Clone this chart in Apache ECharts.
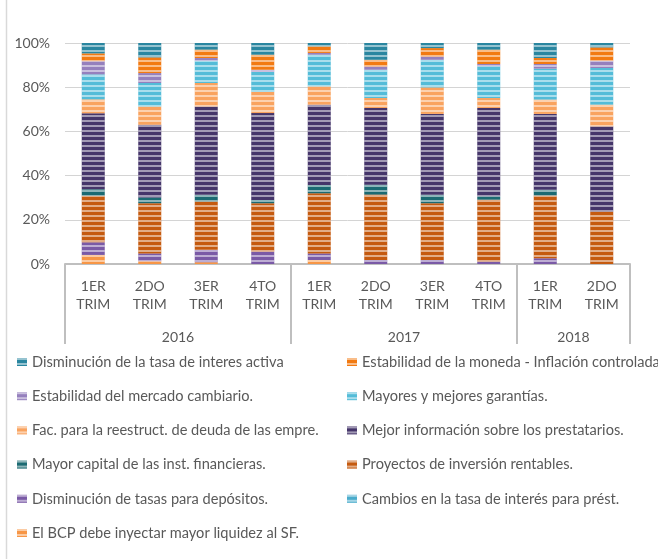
<!DOCTYPE html>
<html>
<head>
<meta charset="utf-8">
<script src="https://cdn.jsdelivr.net/npm/echarts@6/dist/echarts.min.js"></script>
<style>
html,body{margin:0;padding:0;background:#fff;}
#chart{width:658px;height:559px;}
</style>
</head>
<body>
<div id="chart"></div>
<script>
// Categories (quarters) and their year groups
const categories = ['1ER\nTRIM','2DO\nTRIM','3ER\nTRIM','4TO\nTRIM','1ER\nTRIM','2DO\nTRIM','3ER\nTRIM','4TO\nTRIM','1ER\nTRIM','2DO\nTRIM'];
const years = ['2016','2016','2016','2016','2017','2017','2017','2017','2018','2018'];
const yearLabelIndex = [1, 5, 8];
const groupStartIndex = [0, 4, 8];

// Series values (% share), legend order
const tasaActiva  = [4.7, 6.5, 3.0, 5.3, 1.5, 7.6, 2.3, 3.0, 6.8, 2.0];
const moneda      = [3.5, 7.1, 3.8, 6.8, 3.0, 3.0, 3.8, 6.5, 2.7, 6.0];
const mercado     = [6.0, 4.5, 1.2, 1.0, 0.8, 1.5, 1.5, 1.0, 2.1, 3.3];
const garantias   = [11.3, 10.6, 10.1, 9.0, 14.3, 12.8, 12.5, 14.4, 14.0, 16.6];
const reestruct   = [6.3, 8.3, 10.6, 9.6, 8.3, 4.5, 12.0, 4.5, 6.5, 9.8];
const informacion = [34.4, 32.9, 40.0, 39.3, 36.3, 34.7, 36.6, 40.0, 34.3, 38.6];
const capital     = [2.9, 2.6, 3.0, 1.5, 3.8, 4.5, 3.8, 1.5, 2.6, 0.0];
const proyectos   = [21.1, 22.7, 21.9, 21.9, 27.2, 29.6, 25.7, 28.0, 28.4, 23.7];
const depositos   = [5.7, 3.5, 5.6, 5.6, 3.0, 1.8, 1.8, 1.1, 2.6, 0.0];
const cambios     = [0, 0, 0, 0, 0, 0, 0, 0, 0, 0];
const bcp         = [4.1, 1.3, 0.8, 0.0, 1.8, 0.0, 0.0, 0.0, 0.0, 0.0];

const yTicks = [0, 20, 40, 60, 80, 100];

const seriesDefs = [
  {name: 'Disminución de la tasa de interes activa', data: tasaActiva, color: '#2a86a0'},
  {name: 'Estabilidad de la moneda - Inflación controlada', data: moneda, color: '#f27a12'},
  {name: 'Estabilidad del mercado cambiario.', data: mercado, color: '#9580bd'},
  {name: 'Mayores y mejores garantías.', data: garantias, color: '#54bcd8'},
  {name: 'Fac. para la reestruct. de deuda de las empre.', data: reestruct, color: '#f9a35f'},
  {name: 'Mejor información sobre los prestatarios.', data: informacion, color: '#45356a'},
  {name: 'Mayor capital de las inst. financieras.', data: capital, color: '#1b6a72'},
  {name: 'Proyectos de inversión rentables.', data: proyectos, color: '#c55a0f'},
  {name: 'Disminución de tasas para depósitos.', data: depositos, color: '#7a5aa6'},
  {name: 'Cambios en la tasa de interés para prést.', data: cambios, color: '#4aaccc'},
  {name: 'El BCP debe inyectar mayor liquidez al SF.', data: bcp, color: '#f79646'}
];

const FONT = 'Lato, "Open Sans", sans-serif';
const TXT = '#595959';

const stripe = {
  symbol: 'rect', symbolSize: 1,
  dashArrayX: [1, 0], dashArrayY: [1.6, 2.9],
  rotation: 0, color: 'rgba(255,255,255,0.5)'
};

// stack bottom -> top is reverse of legend order
const series = seriesDefs.slice().reverse().map(s => ({
  name: s.name, type: 'bar', stack: 'total',
  data: s.data, barWidth: 23, xAxisIndex: 0,
  itemStyle: {color: s.color, decal: stripe},
  emphasis: {disabled: true}
}));

const leftNames = seriesDefs.filter((s, i) => i % 2 === 0).map(s => s.name);
const rightNames = seriesDefs.filter((s, i) => i % 2 === 1).map(s => s.name);

const legendBase = {
  orient: 'vertical', top: 354, itemGap: 18.2, padding: 0,
  itemWidth: 10, itemHeight: 8, icon: 'rect',
  selectedMode: false,
  textStyle: {fontFamily: FONT, fontSize: 14.6, color: TXT, lineHeight: 16}
};

const chart = echarts.init(document.getElementById('chart'), null, {renderer: 'canvas'});
chart.setOption({
  animation: false,
  backgroundColor: '#fff',
  textStyle: {fontFamily: FONT},
  grid: {left: 65, right: 28, top: 43, bottom: 295, containLabel: false},
  legend: [
    Object.assign({}, legendBase, {left: 17, data: leftNames}),
    Object.assign({}, legendBase, {left: 347, data: rightNames})
  ],
  xAxis: [
    {
      type: 'category', data: categories, position: 'bottom',
      axisLine: {show: true, lineStyle: {color: '#bfbfbf', width: 2}},
      axisTick: {show: true, length: 80, interval: i => groupStartIndex.indexOf(i) >= 0,
                 lineStyle: {color: '#bfbfbf', width: 2}},
      axisLabel: {interval: 0, color: TXT, fontFamily: FONT, fontSize: 14, lineHeight: 18, margin: 13}
    },
    {
      type: 'category', data: years, position: 'bottom',
      axisLine: {show: false}, axisTick: {show: false},
      axisLabel: {interval: i => yearLabelIndex.indexOf(i) >= 0, color: TXT, fontFamily: FONT,
                  fontSize: 14, margin: 66, padding: [0, 0, 0, 56.5]}
    }
  ],
  yAxis: {
    type: 'value', min: yTicks[0], max: yTicks[yTicks.length - 1], interval: 20,
    axisLine: {show: false}, axisTick: {show: false},
    axisLabel: {formatter: '{value}%', color: TXT, fontFamily: FONT, fontSize: 14, margin: 15},
    splitLine: {lineStyle: {color: '#d4d4d4', width: 1}}
  },
  graphic: [
    {type: 'line', shape: {x1: 6.5, y1: 0, x2: 6.5, y2: 559}, style: {stroke: '#d9d9d9', lineWidth: 1.5}}
  ],
  series: series
});
</script>
</body>
</html>
